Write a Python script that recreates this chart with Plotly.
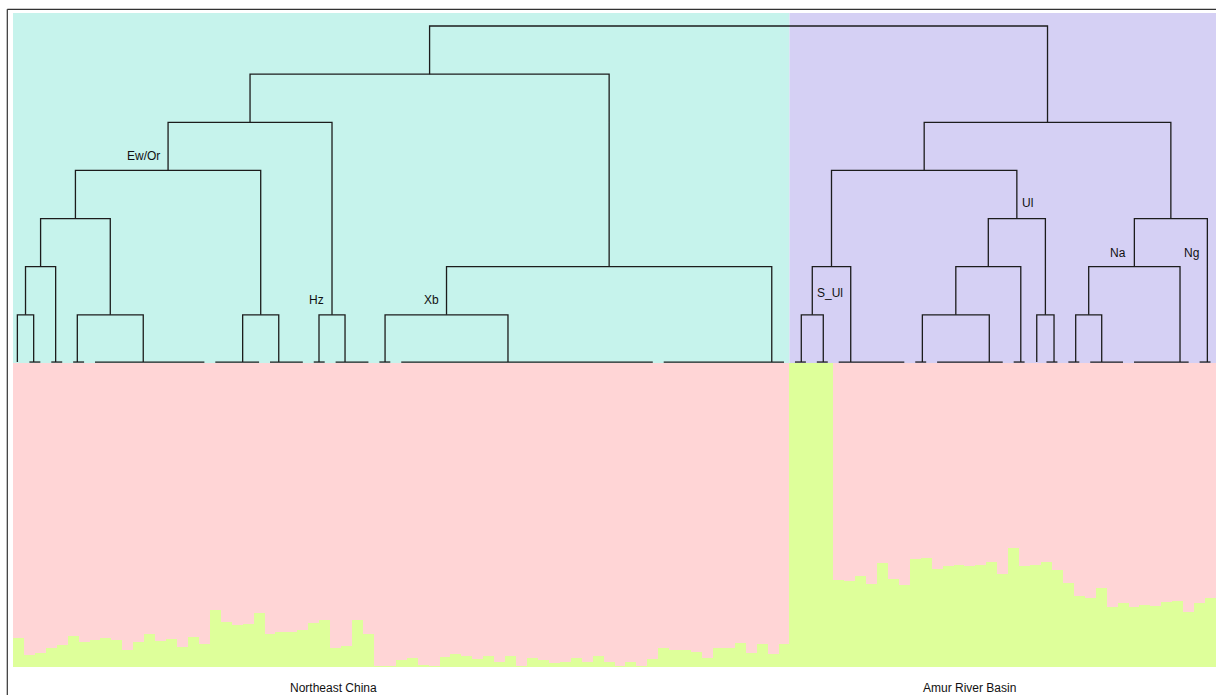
import plotly.graph_objects as go

# ---------------- data ----------------
# admixture proportion of the green (second) component for each individual, left to right
green_share = [
    0.095, 0.039, 0.046, 0.064, 0.071, 0.103, 0.082, 0.090, 0.097, 0.089,
    0.055, 0.081, 0.110, 0.084, 0.093, 0.066, 0.099, 0.075, 0.189, 0.148,
    0.139, 0.143, 0.179, 0.107, 0.114, 0.116, 0.121, 0.145, 0.154, 0.061,
    0.069, 0.156, 0.107, 0.003, 0.003, 0.023, 0.031, 0.007, 0.003, 0.034,
    0.043, 0.036, 0.026, 0.036, 0.016, 0.036, 0.003, 0.030, 0.024, 0.013,
    0.017, 0.029, 0.015, 0.036, 0.015, 0.003, 0.017, 0.003, 0.025, 0.061,
    0.057, 0.057, 0.049, 0.031, 0.062, 0.062, 0.080, 0.046, 0.075, 0.044,
    0.075, 1.000, 1.000, 1.000, 1.000, 0.285, 0.283, 0.301, 0.273, 0.342,
    0.291, 0.270, 0.354, 0.358, 0.324, 0.332, 0.335, 0.332, 0.336, 0.344,
    0.305, 0.393, 0.331, 0.334, 0.347, 0.320, 0.276, 0.233, 0.227, 0.259,
    0.196, 0.209, 0.196, 0.204, 0.200, 0.215, 0.218, 0.182, 0.210, 0.226,
]
pink_share = [1 - g for g in green_share]

# regions (first individual index, last individual index)
region_names = ["Northeast China", "Amur River Basin"]
region_first = [0, 71]
region_last = [70, 109]
region_label_x = [29.3, 87.5]

# dendrogram leaves: name, first individual, last individual, leaf branch position
leaf_names = ["A", "B", "C", "D", "E", "F", "G", "H", "I", "J", "K", "L",
              "a", "b", "c", "d", "e", "f", "g", "h", "i", "j", "k", "l"]
leaf_first = [0, 1, 3, 5, 7, 18, 23, 27, 29, 33, 35, 59,
              71, 73, 75, 82, 84, 91, 93, 94, 96, 98, 102, 108]
leaf_last = [0, 2, 4, 6, 17, 22, 26, 28, 32, 34, 58, 70,
             72, 74, 81, 83, 90, 92, 93, 95, 97, 101, 107, 109]
leaf_pos = [0.40, 1.89, 3.90, 5.88, 11.91, 21.00, 24.30, 27.98, 30.36, 34.02, 45.26, 69.38,
            72.08, 74.09, 76.60, 83.15, 89.27, 92.15, 93.61, 95.19, 97.17, 99.55, 106.71, 109.21]

# merges: node name, child 1, child 2, merge level
merge_names = ["n1", "n2", "n3", "n4", "n5", "n6", "n7", "n8", "n9", "n10", "n11",
               "m1", "m2", "m3", "m4", "m5", "m6", "m7", "m8", "m9", "m10", "m11", "root"]
merge_left = ["A", "n1", "D", "n2", "F", "n4", "H", "n6", "J", "n9", "n8",
              "a", "m1", "d", "m3", "g", "m4", "m2", "i", "m8", "m9", "m7", "n11"]
merge_right = ["B", "C", "E", "n3", "G", "n5", "I", "n7", "K", "L", "n10",
               "b", "c", "e", "f", "h", "m5", "m6", "j", "k", "l", "m10", "m11"]
merge_level = [1, 2, 1, 3, 1, 4, 1, 5, 1, 2, 6,
               1, 2, 1, 2, 1, 3, 4, 1, 2, 3, 5, 7]

# clade labels: text, attached node, label height (in levels), side
clade_text = ["Ew/Or", "Hz", "Xb", "Ul", "S_Ul", "Na", "Ng"]
clade_node = ["n6", "n7", "n9", "m6", "m1", "m9", "l"]
clade_level = [4.30, 1.31, 1.31, 3.33, 1.46, 2.29, 2.29]
clade_side = ["left", "left", "left", "right", "right", "left", "left"]

# ---------------- styling ----------------
TEAL = "#C6F3EC"
PURPLE = "#D5D0F4"
PINK = "#FFD5D6"
GREEN = "#DEFF9A"
LINE = "#1c1c1c"
FONT = "Arial, 'Liberation Sans', sans-serif"

W, H = 1216, 695
M_L, M_R, M_T, M_B = 13, 0, 13, 28
plot_h = H - M_T - M_B
bar_px = 304
split = bar_px / plot_h
level_px = 48.14
y2_top = (plot_h - bar_px) / level_px
leaf_base = 0.02

n = len(green_share)
xs = [i + 0.5 for i in range(n)]

fig = go.Figure()
fig.add_trace(go.Bar(x=xs, y=green_share, width=1, marker=dict(color=GREEN, line=dict(width=0)),
                     xaxis="x", yaxis="y", hoverinfo="skip", showlegend=False))
fig.add_trace(go.Bar(x=xs, y=pink_share, width=1, marker=dict(color=PINK, line=dict(width=0)),
                     xaxis="x", yaxis="y", hoverinfo="skip", showlegend=False))

# ---- dendrogram geometry from the merge table ----
pos = {}
lvl = {}
for nm, p in zip(leaf_names, leaf_pos):
    pos[nm] = p
    lvl[nm] = leaf_base
for nm, a, b, h in zip(merge_names, merge_left, merge_right, merge_level):
    pos[nm] = (pos[a] + pos[b]) / 2
    lvl[nm] = h

lx, ly = [], []
# leaf segments spanning their individuals
for f, l in zip(leaf_first, leaf_last):
    if l > f:
        lx += [f + 0.5, l + 0.5, None]
        ly += [leaf_base, leaf_base, None]
for nm, a, b, h in zip(merge_names, merge_left, merge_right, merge_level):
    lx += [pos[a], pos[a], pos[b], pos[b], None]
    ly += [lvl[a], h, h, lvl[b], None]

fig.add_trace(go.Scatter(x=lx, y=ly, mode="lines", line=dict(color=LINE, width=1.3),
                         xaxis="x", yaxis="y2", hoverinfo="skip", showlegend=False))

shapes = []
region_cols = [TEAL, PURPLE]
for f, l, c in zip(region_first, region_last, region_cols):
    shapes.append(dict(type="rect", xref="x", yref="y2", x0=f, x1=l + 1, y0=0, y1=y2_top,
                       fillcolor=c, line=dict(width=0), layer="below"))
# outer frame (partly outside the visible page)
fx = (7.3 - M_L) / (W - M_L - M_R)
fy = 1 + (M_T - 9.3) / plot_h
shapes.append(dict(type="line", xref="paper", yref="paper", x0=fx, x1=1.05, y0=fy, y1=fy,
                   line=dict(color="#333333", width=1.2)))
shapes.append(dict(type="line", xref="paper", yref="paper", x0=fx, x1=fx, y0=fy, y1=-0.2,
                   line=dict(color="#333333", width=1.2)))

annotations = []
for t, nd, yl, side in zip(clade_text, clade_node, clade_level, clade_side):
    annotations.append(dict(
        x=pos[nd], y=yl, xref="x", yref="y2", text=t, showarrow=False,
        xanchor="right" if side == "left" else "left", yanchor="middle",
        xshift=-6 if side == "left" else 3,
        font=dict(family=FONT, size=12, color="#111111")))
for name, xl in zip(region_names, region_label_x):
    annotations.append(dict(
        x=xl, y=0, xref="x", yref="paper", text=name, showarrow=False,
        xanchor="center", yanchor="middle", yshift=-21,
        font=dict(family=FONT, size=12, color="#111111")))

axis_off = dict(visible=False, showgrid=False, zeroline=False, fixedrange=True)
fig.update_layout(
    width=W, height=H,
    margin=dict(l=M_L, r=M_R, t=M_T, b=M_B, pad=0),
    paper_bgcolor="white", plot_bgcolor="white",
    barmode="stack", bargap=0, bargroupgap=0,
    xaxis=dict(range=[0, n], domain=[0, 1], **axis_off),
    yaxis=dict(range=[0, 1], domain=[0, split], **axis_off),
    yaxis2=dict(range=[0, y2_top], domain=[split, 1], anchor="x", **axis_off),
    shapes=shapes, annotations=annotations,
    showlegend=False,
)

fig.write_html(
    "out.html",
    config={"displayModeBar": False, "staticPlot": True},
    post_script="document.body.style.margin='0px';document.body.style.overflow='hidden';",
)
